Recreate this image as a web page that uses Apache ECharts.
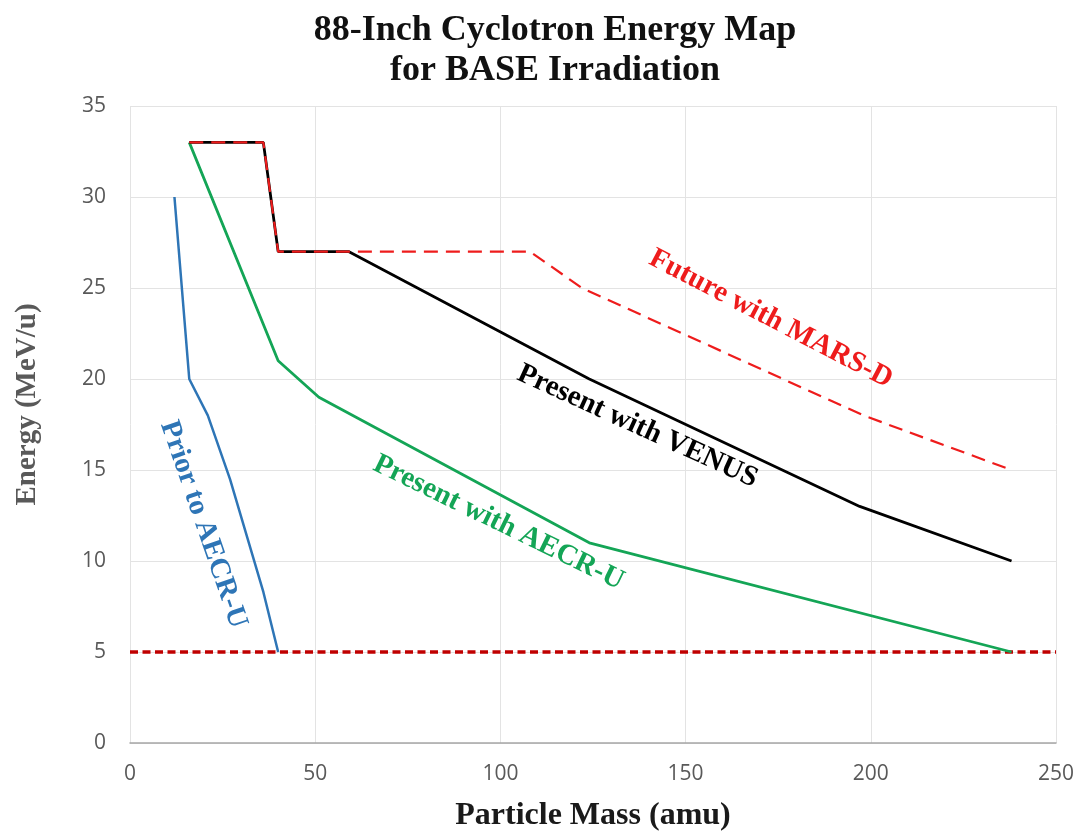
<!DOCTYPE html>
<html>
<head>
<meta charset="utf-8">
<script src="https://cdn.jsdelivr.net/npm/echarts@6/dist/echarts.min.js"></script>
<style>
html,body{margin:0;padding:0;background:#fff;}
#chart{width:1078px;height:836px;}
</style>
</head>
<body>
<div id="chart"></div>
<script>
// ---- data ----
var xTicks = [0, 50, 100, 150, 200, 250];
var yTicks = [0, 5, 10, 15, 20, 25, 30, 35];
var priorAECR = [[12, 30], [16, 20], [21, 18], [27, 14.5], [36, 8.3], [40, 5]];
var presentAECR = [[16, 33], [40, 21], [51, 19], [124, 11], [238, 5]];
var presentVENUS = [[16, 33], [36, 33], [40, 27], [59, 27], [124, 20], [197, 13], [238, 10]];
var futureMARS = [[16, 33], [36, 33], [40, 27], [108, 27], [122, 25], [198, 18], [238, 15]];
var threshold = [[0, 5], [250, 5]];
var labelTexts = ['Future with MARS-D', 'Present with VENUS', 'Present with AECR-U', 'Prior to AECR-U'];
var labelAnchors = [[173, 23.3], [137, 17.4], [99.5, 12.1], [19.8, 12.0]];
var labelAngles = [27.5, 24.5, 26, 71];
var labelColors = ['#ee1c1c', '#000000', '#14a556', '#2e75b6'];

var serif = '"Liberation Serif", "Times New Roman", "DejaVu Serif", serif';
var sans = '"Open Sans", "Liberation Sans", sans-serif';

var chart = echarts.init(document.getElementById('chart'));
var option = {
  backgroundColor: '#ffffff',
  animation: false,
  title: {
    text: '88-Inch Cyclotron Energy Map\nfor BASE Irradiation',
    left: 550,
    top: 6,
    textAlign: 'center',
    textStyle: {
      fontFamily: serif,
      fontWeight: 'bold',
      fontSize: 36,
      lineHeight: 40,
      color: '#111111'
    }
  },
  grid: { left: 130, right: 22, top: 106, bottom: 93, containLabel: false, outerBoundsMode: 'none' },
  xAxis: {
    type: 'value',
    min: xTicks[0],
    max: xTicks[xTicks.length - 1],
    interval: 50,
    name: 'Particle Mass (amu)',
    nameLocation: 'middle',
    nameGap: 57,
    nameTextStyle: { fontFamily: serif, fontWeight: 'bold', fontSize: 32, color: '#1a1a1a' },
    axisLine: { show: true, lineStyle: { color: '#a6a6a6', width: 1.5 } },
    axisTick: { show: false },
    axisLabel: { fontFamily: sans, fontSize: 21, color: '#595959', margin: 21 },
    splitLine: { show: true, lineStyle: { color: '#e3e3e3', width: 1 } }
  },
  yAxis: {
    type: 'value',
    min: yTicks[0],
    max: yTicks[yTicks.length - 1],
    interval: 5,
    name: 'Energy (MeV/u)',
    nameLocation: 'middle',
    nameGap: 88,
    nameRotate: 90,
    nameTextStyle: { fontFamily: serif, fontWeight: 'bold', fontSize: 29, color: '#595959', padding: [0, 0, 0, 40] },
    axisLine: { show: false },
    axisTick: { show: false },
    axisLabel: { fontFamily: sans, fontSize: 21, color: '#595959', margin: 24 },
    splitLine: { show: true, lineStyle: { color: '#e3e3e3', width: 1 } }
  },
  series: [
    {
      name: 'Threshold', type: 'line', data: threshold, symbol: 'none', z: 2,
      lineStyle: { color: '#c00000', width: 3.5, type: [8, 4.5] }
    },
    {
      name: 'Prior to AECR-U', type: 'line', data: priorAECR, symbol: 'none', z: 3,
      lineStyle: { color: '#2e75b6', width: 2.5 }
    },
    {
      name: 'Present with AECR-U', type: 'line', data: presentAECR, symbol: 'none', z: 3,
      lineStyle: { color: '#14a556', width: 2.8 }
    },
    {
      name: 'Present with VENUS', type: 'line', data: presentVENUS, symbol: 'none', z: 4,
      lineStyle: { color: '#000000', width: 2.8 }
    },
    {
      name: 'Future with MARS-D', type: 'line', data: futureMARS, symbol: 'none', z: 5,
      lineStyle: { color: '#ee1c1c', width: 2.2, type: [14, 8] }
    }
  ]
};
chart.setOption(option);

var graphics = [];
for (var i = 0; i < labelTexts.length; i++) {
  var p = chart.convertToPixel({ gridIndex: 0 }, labelAnchors[i]);
  graphics.push({
    type: 'text',
    x: p[0],
    y: p[1],
    rotation: -labelAngles[i] * Math.PI / 180,
    z: 10,
    style: {
      text: labelTexts[i],
      fontFamily: serif,
      fontWeight: 'bold',
      fontSize: 29,
      fill: labelColors[i],
      align: 'center',
      verticalAlign: 'middle'
    }
  });
}
chart.setOption({ graphic: graphics });
</script>
</body>
</html>
